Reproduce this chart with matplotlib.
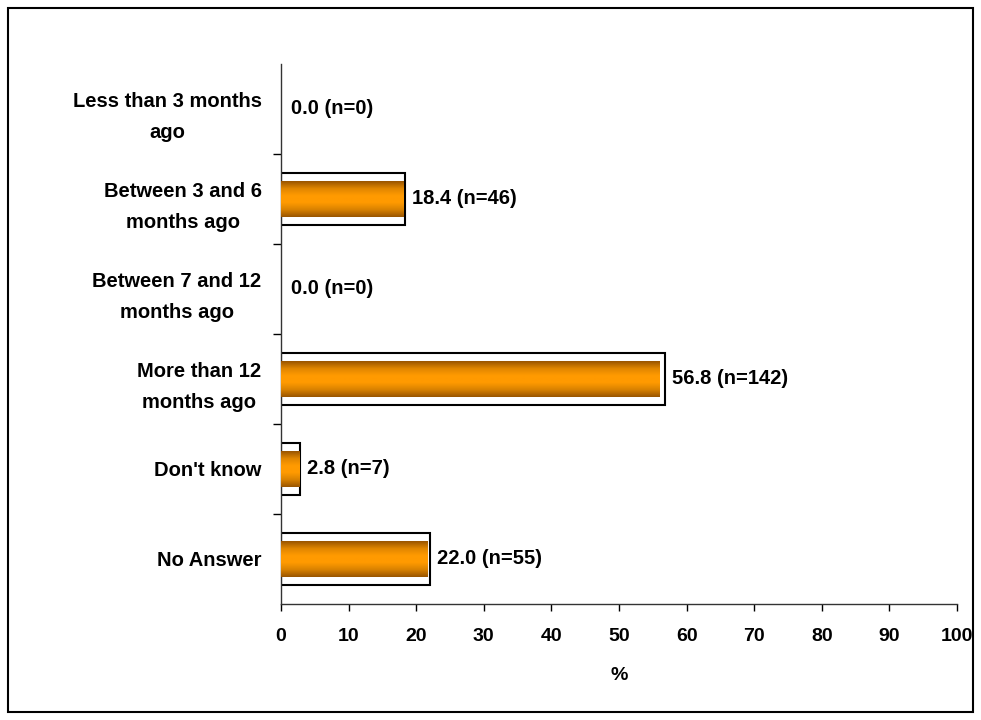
import numpy as np
import matplotlib.pyplot as plt
from matplotlib.colors import LinearSegmentedColormap
from matplotlib.patches import Rectangle

categories = ["Less than 3 months\nago", "Between 3 and 6\nmonths ago", "Between 7 and 12\nmonths ago",
              "More than 12\nmonths ago", "Don't know", "No Answer"]
values = [0.0, 18.4, 0.0, 56.8, 2.8, 22.0]
counts = [0, 46, 0, 142, 7, 55]
xticks = [0, 10, 20, 30, 40, 50, 60, 70, 80, 90, 100]

plt.rcParams['font.family'] = ['Liberation Sans', 'DejaVu Sans']
plt.rcParams['font.weight'] = 'bold'

fig = plt.figure(figsize=(9.81, 7.2), dpi=100)
fig.patches.append(Rectangle((8/981, 8/720), 965/981, 704/720, transform=fig.transFigure,
                             fill=False, edgecolor='black', linewidth=1.5, zorder=0))
ax = fig.add_axes([281/981, 116/720, 676/981, 540/720])

n = len(categories)
ypos = np.arange(n)
cmap = LinearSegmentedColormap.from_list('g', ['#9a5600', '#d98200', '#ff9a00', '#ff9a00', '#e08600', '#9a5600'])
grad = np.linspace(0, 1, 64).reshape(-1, 1)

for y, v, c in zip(ypos, values, counts):
    if v > 0:
        ax.barh(y, v, height=0.58, color='white', edgecolor='black', linewidth=1.5, zorder=2)
        ax.imshow(grad, cmap=cmap, aspect='auto', extent=[0, v * 0.985, y - 0.2, y + 0.2],
                  zorder=3, interpolation='bilinear')
    ax.annotate(f"{v:.1f} (n={c})", xy=(v, y), xytext=(5 if v > 0 else 7, 0),
                textcoords='offset points', va='center', ha='left', fontsize=14.5, fontweight='bold')

ax.set_xlim(0, 100)
ax.set_ylim(n - 0.5, -0.5)
ax.set_xticks(xticks)
ax.set_xticklabels([str(t) for t in xticks], fontsize=14, fontweight='bold')
ax.set_yticks(ypos)
ax.set_yticklabels(categories, fontsize=14.5, fontweight='bold', ha='right', multialignment='center',
                   linespacing=1.8)
ax.tick_params(axis='y', length=0, pad=14)
ax.set_yticks(np.arange(0.5, n - 0.5, 1), minor=True)
ax.tick_params(axis='y', which='minor', length=6, width=1, direction='out')
ax.tick_params(axis='x', length=5, width=1, direction='out', pad=12)
ax.set_xlabel('%', fontsize=14, fontweight='bold', labelpad=16)
for s in ['top', 'right']:
    ax.spines[s].set_visible(False)
for s in ['left', 'bottom']:
    ax.spines[s].set_linewidth(1)
    ax.spines[s].set_color('#333333')

fig.savefig('out.png', dpi=100)
